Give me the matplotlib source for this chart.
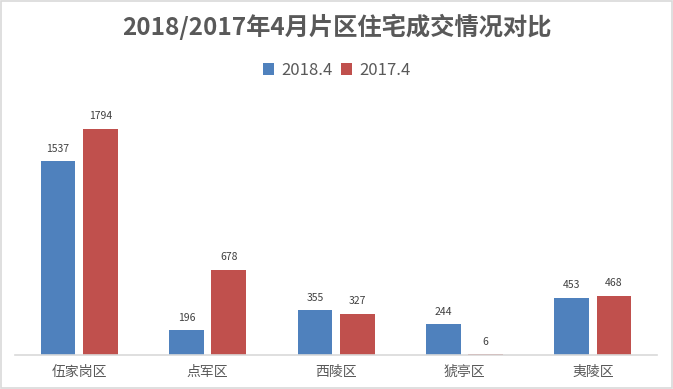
import numpy as np
import matplotlib.pyplot as plt
from matplotlib.patches import Rectangle

plt.rcParams['font.family'] = ['Noto Sans CJK SC', 'DejaVu Sans']

districts = ['伍家岗区', '点军区', '西陵区', '猇亭区', '夷陵区']
v2018 = [1537, 196, 355, 244, 453]
v2017 = [1794, 678, 327, 6, 468]
series_names = ['2018.4', '2017.4']
blue = '#4F81BD'
red = '#C0504D'

fig = plt.figure(figsize=(6.73, 3.89), dpi=100)
ax = fig.add_axes([0.0223, 0.0874, 0.954, 0.648])

x = np.arange(len(districts))
w = 0.27
off = 0.165
b1 = ax.bar(x - off, v2018, w, color=blue, label=series_names[0])
b2 = ax.bar(x + off, v2017, w, color=red, label=series_names[1])

for bars in (b1, b2):
    for r in bars:
        ax.text(r.get_x() + r.get_width() / 2, r.get_height() + 60,
                str(int(r.get_height())), ha='center', va='bottom',
                fontsize=7.5, color='#404040')

ax.set_xlim(-0.5, len(districts) - 0.5)
ax.set_ylim(0, 2000)
ax.set_yticks([])
ax.set_xticks(x)
ax.set_xticklabels(districts, fontsize=10, color='#595959')
ax.tick_params(axis='x', length=0, pad=7)
for s in ['top', 'right', 'left']:
    ax.spines[s].set_visible(False)
ax.spines['bottom'].set_color('#D9D9D9')
ax.spines['bottom'].set_linewidth(1.2)

fig.text(0.5, 0.93, '2018/2017年4月片区住宅成交情况对比', ha='center', va='center',
         fontsize=17.5, fontweight='bold', color='#595959')

fig.legend(handles=[b1, b2], labels=series_names, loc='center',
           bbox_to_anchor=(0.5, 0.82), ncol=2, frameon=False, fontsize=12,
           labelcolor='#595959', handlelength=0.7, handleheight=0.7,
           handletextpad=0.4, columnspacing=0.5)

fig.patches.append(Rectangle((0.002, 0.003), 0.996, 0.994, transform=fig.transFigure,
                             fill=False, edgecolor='#D9D9D9', linewidth=1.2))

fig.savefig('out.png', dpi=100)
